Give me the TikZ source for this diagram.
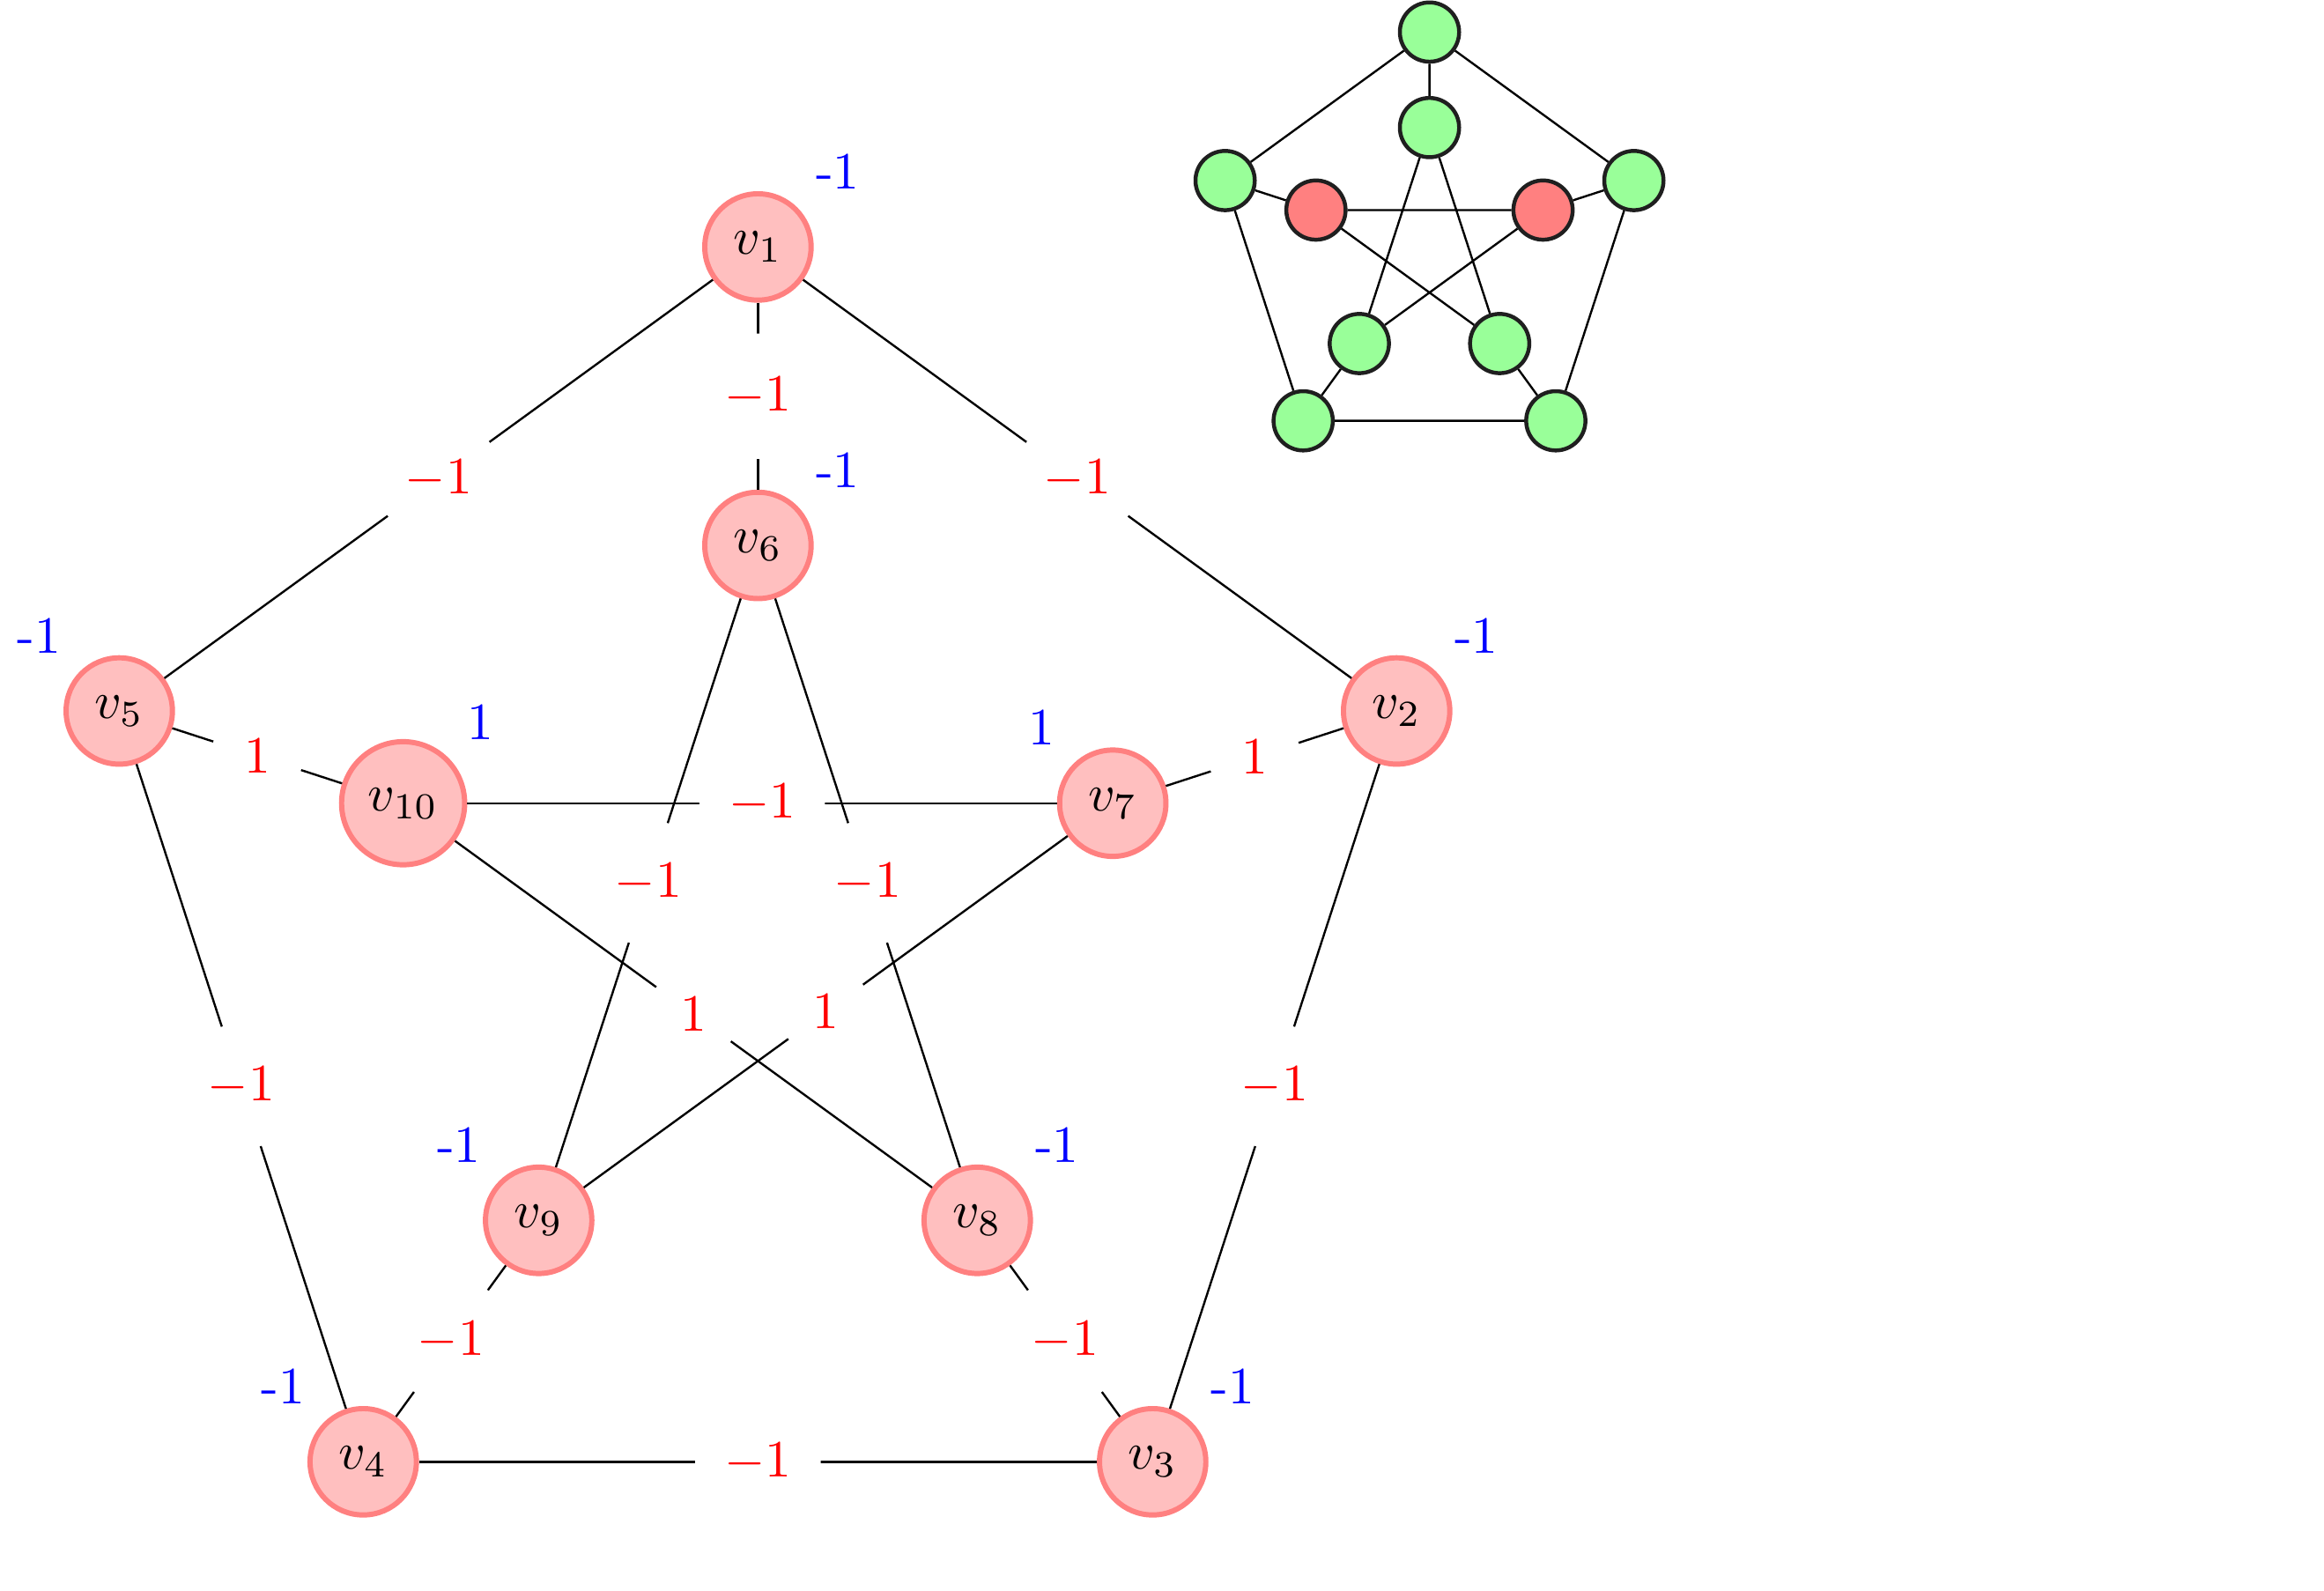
\documentclass[tikz,border=0pt]{standalone}
\begin{document}
\begin{tikzpicture}[
  vtx/.style={circle, draw=red!50, fill=red!25, line width=1pt},
  wlab/.style={circle, fill=white, text=red},
  bl/.style={text=blue},
  sv/.style={circle, draw=black!88, fill=green!40, line width=0.75pt, minimum size=11.3pt, inner sep=0pt},
  sr/.style={sv, fill=red!50},
  edge/.style={draw=black, line width=0.4pt}
]
\useasboundingbox (-5.079,-4.501) rectangle (10.494,6.155);
% big graph
\node[vtx, label={[bl]45:-1}]  (v1)  at (90:4.5)   {$v_1$};
\node[vtx, label={[bl]45:-1}]  (v2)  at (18:4.5)   {$v_2$};
\node[vtx, label={[bl]45:-1}]  (v3)  at (-54:4.5)  {$v_3$};
\node[vtx, label={[bl]135:-1}] (v4)  at (-126:4.5) {$v_4$};
\node[vtx, label={[bl]135:-1}] (v5)  at (162:4.5)  {$v_5$};
\node[vtx, label={[bl]45:-1}]  (v6)  at (90:2.5)   {$v_6$};
\node[vtx, label={[bl]135:1}]  (v7)  at (18:2.5)   {$v_7$};
\node[vtx, label={[bl]45:-1}]  (v8)  at (-54:2.5)  {$v_8$};
\node[vtx, label={[bl]135:-1}] (v9)  at (-126:2.5) {$v_9$};
\node[vtx, label={[bl]45:1}]   (v10) at (162:2.5)  {$v_{10}$};
% outer cycle
\draw[edge] (v1) -- node[wlab] {$-1$} (v2);
\draw[edge] (v2) -- node[wlab] {$-1$} (v3);
\draw[edge] (v3) -- node[wlab] {$-1$} (v4);
\draw[edge] (v4) -- node[wlab] {$-1$} (v5);
\draw[edge] (v5) -- node[wlab] {$-1$} (v1);
% spokes
\draw[edge] (v1) -- node[wlab] {$-1$} (v6);
\draw[edge] (v2) -- node[wlab] {$1$} (v7);
\draw[edge] (v3) -- node[wlab] {$-1$} (v8);
\draw[edge] (v4) -- node[wlab] {$-1$} (v9);
\draw[edge] (v5) -- node[wlab] {$1$} (v10);
% inner pentagram
\draw[edge] (v6) -- node[wlab] {$-1$} (v8);
\draw[edge] (v6) -- node[wlab] {$-1$} (v9);
\draw[edge] (v10) -- node[wlab] {$-1$} (v7);
\draw[edge] (v7) -- node[wlab] {$1$} (v9);
\draw[edge] (v10) -- node[wlab] {$1$} (v8);
% small graph
\begin{scope}[shift={(4.5,4.5)}]
\node[sv] (s1) at (90:1.44) {};
\node[sv] (s2) at (18:1.44) {};
\node[sv] (s3) at (-54:1.44) {};
\node[sv] (s4) at (-126:1.44) {};
\node[sv] (s5) at (162:1.44) {};
\node[sv] (t1) at (90:0.8) {};
\node[sr] (t2) at (18:0.8) {};
\node[sv] (t3) at (-54:0.8) {};
\node[sv] (t4) at (-126:0.8) {};
\node[sr] (t5) at (162:0.8) {};
\draw[edge] (s1) -- (s2) (s2) -- (s3) (s3) -- (s4) (s4) -- (s5) (s5) -- (s1);
\draw[edge] (s1) -- (t1) (s2) -- (t2) (s3) -- (t3) (s4) -- (t4) (s5) -- (t5);
\draw[edge] (t1) -- (t3) (t3) -- (t5) (t5) -- (t2) (t2) -- (t4) (t4) -- (t1);
\end{scope}
\end{tikzpicture}
\end{document}
